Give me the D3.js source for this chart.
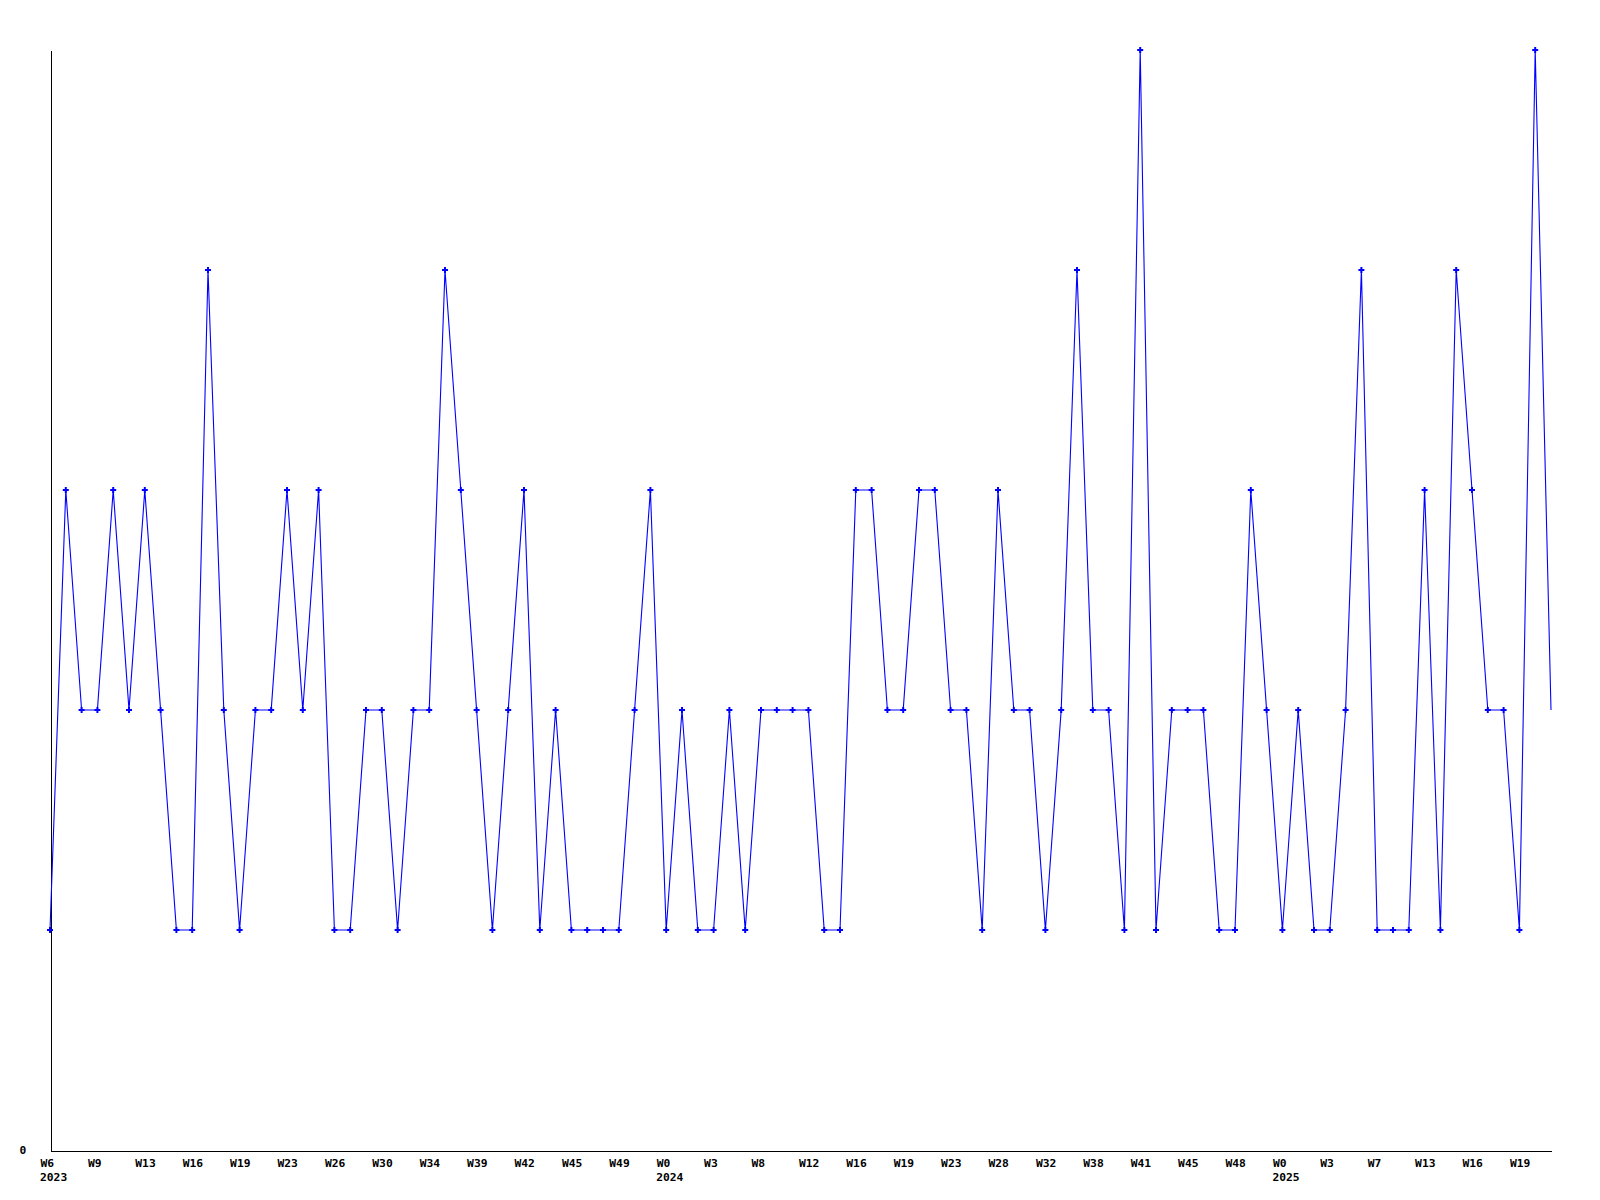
<!DOCTYPE html>
<html>
<head>
<meta charset="utf-8">
<script src="https://cdn.jsdelivr.net/npm/d3@7"></script>
<style>
  html, body { margin: 0; padding: 0; background: #ffffff; }
  svg { display: block; }
  .tick text, .yr { font-family: "DejaVu Sans Mono", monospace; font-weight: bold; font-size: 11.3px; fill: #000; }
</style>
</head>
<body>
<svg id="chart" width="1600" height="1200"></svg>
<script>
// Weekly values (one per point, left to right)
const values = [
  1, 3, 2, 2, 3, 2, 3, 2, 1, 1,
  4, 2, 1, 2, 2, 3, 2, 3, 1, 1,
  2, 2, 1, 2, 2, 4, 3, 2, 1, 2,
  3, 1, 2, 1, 1, 1, 1, 2, 3, 1,
  2, 1, 1, 2, 1, 2, 2, 2, 2, 1,
  1, 3, 3, 2, 2, 3, 3, 2, 2, 1,
  3, 2, 2, 1, 2, 4, 2, 2, 1, 5,
  1, 2, 2, 2, 1, 1, 3, 2, 1, 2,
  1, 1, 2, 4, 1, 1, 1, 3, 1, 4,
  3, 2, 2, 1, 5, 2
];
// Tick labels shown at every third point
const tickLabels = [
  "W6", "W9", "W13", "W16", "W19", "W23", "W26", "W30", "W34", "W39", "W42", "W45", "W49",
  "W0", "W3", "W8", "W12", "W16", "W19", "W23", "W28", "W32", "W38", "W41", "W45", "W48",
  "W0", "W3", "W7", "W13", "W16", "W19"
];
const yearLabels = ["2023", "2024", "2025"];
const yearIndex = [0, 39, 78];
const yTickValues = [0];

const svg = d3.select("#chart");
const n = values.length;
const x = d3.scaleLinear().domain([0, n - 1]).range([50, 1551]);
const y = d3.scaleLinear().domain([0, 5]).range([1150, 50]);

const tickIdx = tickLabels.map((_, i) => i * 3);

// x axis
const xAxis = d3.axisBottom(x)
  .tickValues(tickIdx)
  .tickSize(0)
  .tickFormat((d, i) => tickLabels[i]);
const gx = svg.append("g").attr("transform", "translate(0,1150.5)").call(xAxis);
gx.select(".domain").attr("stroke", "#000").attr("stroke-width", 1).attr("shape-rendering", "crispEdges");
gx.selectAll(".tick text").attr("text-anchor", "start").attr("dx", -10).attr("y", 16).attr("dy", 0);

// year labels
svg.append("g").selectAll("text").data(yearLabels).join("text")
  .attr("class", "yr")
  .attr("x", (d, i) => x(yearIndex[i]) - 10)
  .attr("y", 1181)
  .text(d => d);

// y axis
const yAxis = d3.axisLeft(y).tickValues(yTickValues).tickSize(0).tickFormat(d3.format("d"));
const gy = svg.append("g").attr("transform", "translate(50.5,0)").call(yAxis);
gy.select(".domain").attr("stroke", "#000").attr("stroke-width", 1).attr("shape-rendering", "crispEdges");
gy.selectAll(".tick text").attr("dy", "0.35em").attr("text-anchor", "start").attr("x", -31);

// line
const line = d3.line().x((d, i) => x(i)).y(d => y(d));
svg.append("path")
  .datum(values)
  .attr("fill", "none")
  .attr("stroke", "#0000ff")
  .attr("stroke-width", 1.1)
  .attr("d", line);

// markers (all but the last point)
const cross = d3.symbol().type(d3.symbolCross).size(20);
svg.append("g").selectAll("path").data(values.slice(0, n - 1)).join("path")
  .attr("transform", (d, i) => `translate(${x(i)},${y(d)})`)
  .attr("d", cross)
  .attr("fill", "#0000ff");
</script>
</body>
</html>
